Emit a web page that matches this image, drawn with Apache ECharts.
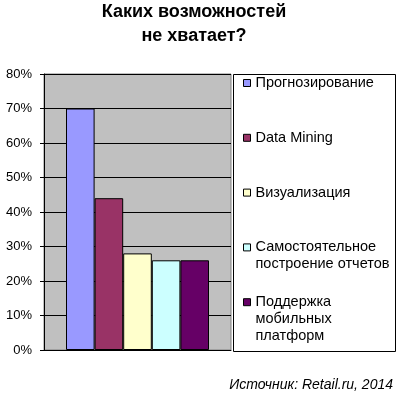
<!DOCTYPE html>
<html><head><meta charset="utf-8">
<script src="https://cdn.jsdelivr.net/npm/echarts@6/dist/echarts.min.js"></script>
<style>html,body{margin:0;padding:0;background:#fff}#c{width:400px;height:396px}</style>
</head><body><div id="c"></div>
<script>
const titleLines = ['Каких возможностей', 'не хватает?'];
const sourceText = 'Источник: Retail.ru, 2014';
const categories = [''];
const seriesNames = ['Прогнозирование', 'Data Mining', 'Визуализация', 'Самостоятельное\nпостроение отчетов', 'Поддержка\nмобильных\nплатформ'];
const seriesValues = [70, 44, 28, 26, 26];
const yMin = 0, yMax = 80, yStep = 10;
const colors = ['#9999FF', '#993366', '#FFFFCC', '#CCFFFF', '#660066'];

const FONT = "'Liberation Sans', Arial, sans-serif";
const LH = 17;
function lineCount(s) { return s.split('\n').length; }
const legends = seriesNames.map(function (name, i) {
  const n = lineCount(name);
  const iconCenter = 83 + i * 54.8;
  const boxH = (2 * n - 1) * LH;
  return {
    orient: 'vertical', left: 243, top: iconCenter - boxH / 2, padding: 0,
    itemWidth: 7, itemHeight: 7, icon: 'rect',
    data: [name],
    formatter: function (nm) { return '\n'.repeat(lineCount(nm) - 1) + nm; },
    textStyle: { fontFamily: FONT, fontSize: 14.5, color: '#000', lineHeight: LH },
    itemStyle: { borderColor: '#000', borderWidth: 1 }
  };
});

const chart = echarts.init(document.getElementById('c'), null, { renderer: 'canvas' });
chart.setOption({
  animation: false,
  backgroundColor: '#fff',
  title: [
    { text: titleLines.join('\n'), left: 194, top: 0, textAlign: 'center', padding: 0,
      textStyle: { fontFamily: FONT, fontSize: 18, fontWeight: 'bold', color: '#000', lineHeight: 24 } },
    { text: sourceText, right: 7, top: 378, padding: 0,
      textStyle: { fontFamily: FONT, fontSize: 14, fontStyle: 'italic', fontWeight: 'normal', color: '#000' } }
  ],
  legend: legends,
  graphic: [{
    type: 'rect', shape: { x: 233.5, y: 74.5, width: 162, height: 277 },
    style: { fill: 'none', stroke: '#000', lineWidth: 1 }, silent: true
  }],
  grid: { left: 44, right: 169, top: 74, bottom: 46, show: true, backgroundColor: '#C0C0C0', borderColor: '#808080', borderWidth: 1 },
  xAxis: {
    type: 'category', data: categories,
    axisLine: { lineStyle: { color: '#000', width: 1 } },
    axisTick: { show: false }, axisLabel: { show: false }
  },
  yAxis: {
    type: 'value', min: yMin, max: yMax, interval: yStep,
    axisLine: { show: true, lineStyle: { color: '#000', width: 1 } },
    axisTick: { show: true, length: 4, lineStyle: { color: '#000' } },
    axisLabel: { formatter: '{value}%', margin: 12, fontFamily: FONT, fontSize: 13, color: '#000' },
    splitLine: { lineStyle: { color: '#000', width: 1 } }
  },
  series: seriesNames.map(function (name, i) {
    return {
      type: 'bar', name: name, data: [seriesValues[i]],
      barWidth: 28.6, barGap: '0%',
      itemStyle: { color: colors[i], borderColor: '#000', borderWidth: 1 }
    };
  })
});
</script></body></html>
